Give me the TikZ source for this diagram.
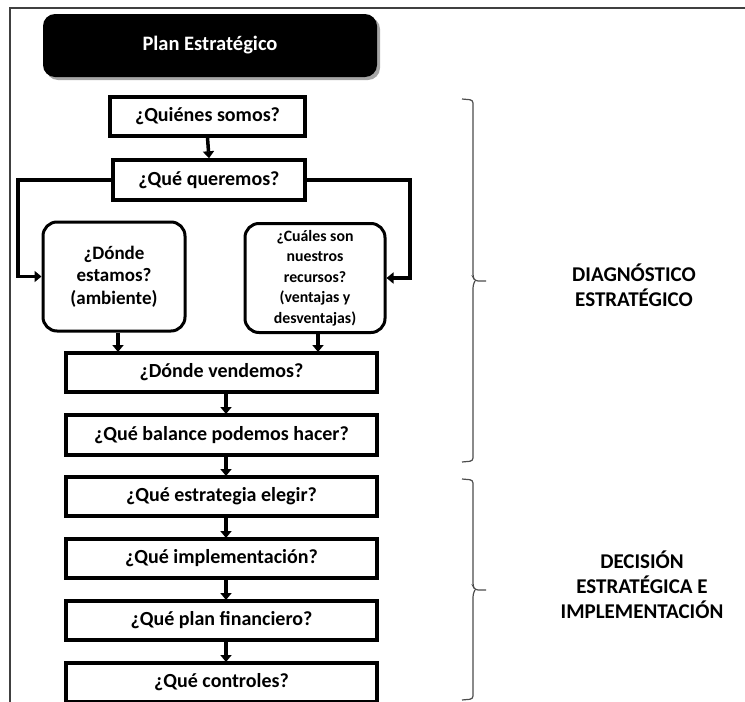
\documentclass[tikz,border=0pt]{standalone}
\usepackage{fontspec}
\setmainfont{Carlito}
\usetikzlibrary{arrows.meta,positioning}
\begin{document}
\begin{tikzpicture}[x=1pt,y=-1pt,
  qbox/.style={draw=black,line width=3.5pt,fill=white,inner sep=0pt,font=\bfseries\fontsize{20}{24}\selectfont},
  rbox/.style={draw=black,line width=3pt,rounded corners=14pt,fill=white,inner sep=0pt,align=center},
  conn/.style={line width=3.5pt,-{Triangle[length=7pt,width=11pt]}},
  lbl/.style={font=\bfseries\fontsize{21}{25}\selectfont,align=center},
  brc/.style={draw=black!70,line width=1.2pt,rounded corners=3pt}]
\useasboundingbox (0,0) rectangle (745,702);
\draw[line width=1.6pt,black!75] (10,702) -- (10,8) -- (745,8);
% title
\fill[black!35,rounded corners=12pt] (46,17) rectangle (380,80);
\node[fill=black,rounded corners=12pt,minimum width=334pt,minimum height=63pt,inner sep=0pt,text=white,font=\bfseries\fontsize{20.5}{24}\selectfont] (title) at (210,45.5) {Plan Estratégico};
% boxes
\node[qbox,minimum width=195pt,minimum height=39pt] (quienes) at (207.5,116.5) {¿Quiénes somos?};
\node[qbox,minimum width=192pt,minimum height=40pt] (quiere) at (209,180) {¿Qué queremos?};
\node[rbox,minimum width=142pt,minimum height=109pt,font=\bfseries\fontsize{19}{22.5}\selectfont] (donde) at (114,276.5) {¿Dónde\\estamos?\\(ambiente)};
\node[rbox,minimum width=140pt,minimum height=109pt,font=\bfseries\fontsize{15.8}{20.5}\selectfont] (cuales) at (315,278) {¿Cuáles son\\nuestros\\recursos?\\(ventajas y\\desventajas)};
\node[qbox,minimum width=311pt,minimum height=39pt] (vend) at (221.5,372.5) {¿Dónde vendemos?};
\node[qbox,minimum width=311pt,minimum height=40pt] (bal) at (221.5,435) {¿Qué balance podemos hacer?};
\node[qbox,minimum width=311pt,minimum height=39pt] (estr) at (221.5,496.5) {¿Qué estrategia elegir?};
\node[qbox,minimum width=311pt,minimum height=39pt] (impl) at (221.5,558.5) {¿Qué implementación?};
\node[qbox,minimum width=311pt,minimum height=39pt] (fin) at (221.5,620.5) {¿Qué plan financiero?};
\node[qbox,minimum width=311pt,minimum height=39pt] (ctrl) at (221.5,682.5) {¿Qué controles?};
% connectors
\draw[conn] (quienes.south) -- (quiere.north);
\draw[conn] (quiere.west) -- (18,180) |- (donde.west);
\draw[conn] (quiere.east) -- (410,180) |- (cuales.east);
\draw[conn] (donde.south -| 118,0) -- (118,352);
\draw[conn] (cuales.south -| 318,0) -- (318,352);
\draw[conn] (vend.south -| 226,0) -- (226,414);
\draw[conn] (bal.south -| 226,0) -- (226,476);
\draw[conn] (estr.south -| 226,0) -- (226,538);
\draw[conn] (impl.south -| 226,0) -- (226,600);
\draw[conn] (fin.south -| 226,0) -- (226,662);
% braces
\draw[brc] (462,99) -- (473,100) -- (473,277) -- (475,281) -- (486,281);
\draw[brc] (475,281) -- (473,285) -- (473,461) -- (462,462);
\draw[brc] (462,479) -- (473,480) -- (473,586) -- (475,590) -- (486,590);
\draw[brc] (475,590) -- (473,594) -- (473,699) -- (462,700);
\node[lbl] (diag) at (634,285) {DIAGNÓSTICO\\ESTRATÉGICO};
\node[lbl] (dec) at (642,585) {DECISIÓN\\ESTRATÉGICA E\\IMPLEMENTACIÓN};
\end{tikzpicture}
\end{document}
